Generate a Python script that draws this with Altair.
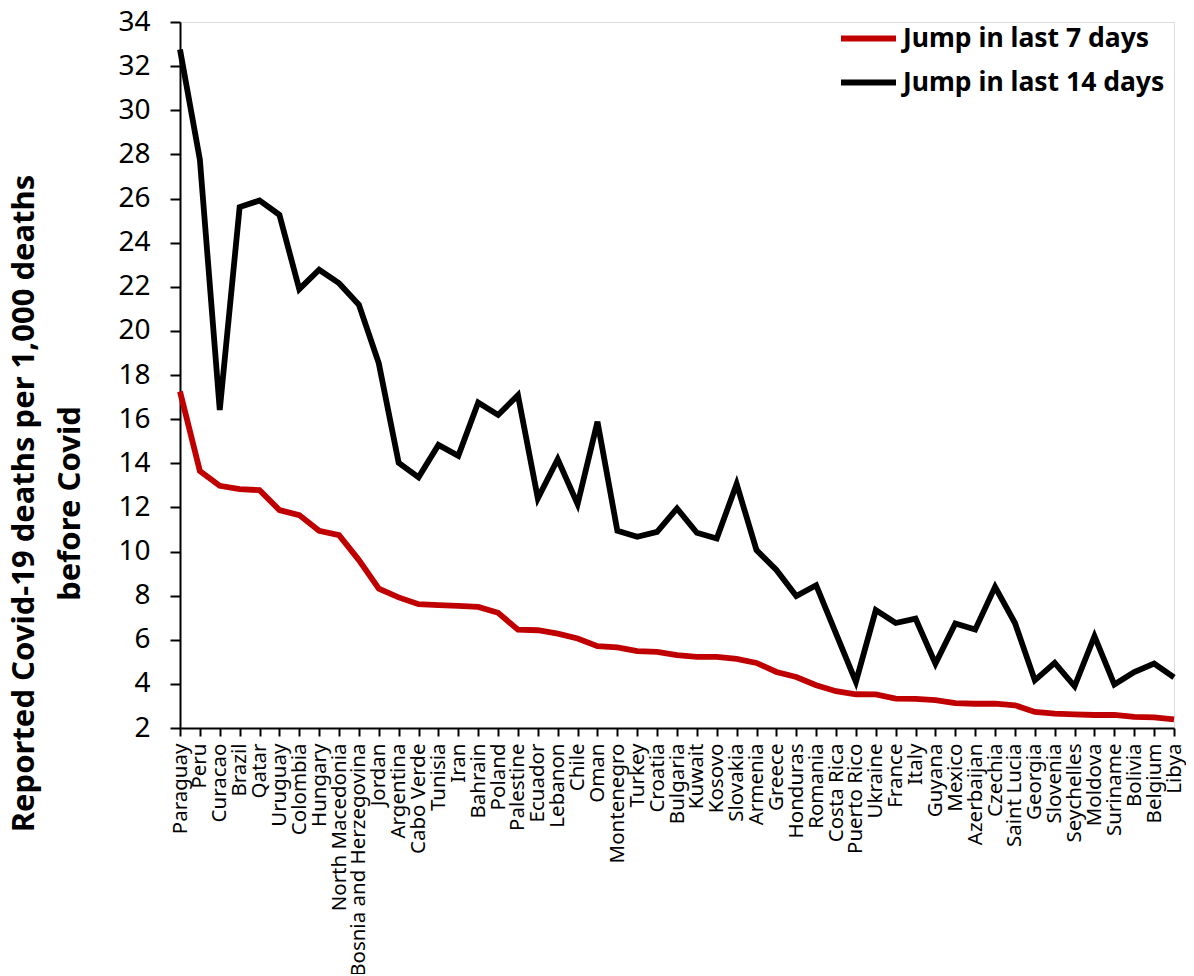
import altair as alt
import pandas as pd

countries = ["Paraguay", "Peru", "Curacao", "Brazil", "Qatar", "Uruguay", "Colombia", "Hungary",
             "North Macedonia", "Bosnia and Herzegovina", "Jordan", "Argentina", "Cabo Verde", "Tunisia",
             "Iran", "Bahrain", "Poland", "Palestine", "Ecuador", "Lebanon", "Chile", "Oman",
             "Montenegro", "Turkey", "Croatia", "Bulgaria", "Kuwait", "Kosovo", "Slovakia", "Armenia",
             "Greece", "Honduras", "Romania", "Costa Rica", "Puerto Rico", "Ukraine", "France", "Italy",
             "Guyana", "Mexico", "Azerbaijan", "Czechia", "Saint Lucia", "Georgia", "Slovenia",
             "Seychelles", "Moldova", "Suriname", "Bolivia", "Belgium", "Libya"]

jump_7 = [17.25, 13.65, 12.98, 12.83, 12.78, 11.88, 11.65, 10.94, 10.74, 9.61, 8.32, 7.92, 7.61, 7.57,
          7.54, 7.49, 7.22, 6.46, 6.43, 6.28, 6.06, 5.71, 5.65, 5.48, 5.45, 5.30, 5.22, 5.22, 5.13, 4.95,
          4.54, 4.31, 3.94, 3.67, 3.53, 3.52, 3.33, 3.32, 3.26, 3.13, 3.10, 3.10, 3.03, 2.73, 2.65,
          2.62, 2.59, 2.59, 2.50, 2.48, 2.39]

jump_14 = [32.75, 27.76, 16.41, 25.61, 25.91, 25.26, 21.89, 22.77, 22.16, 21.18, 18.53, 14.02, 13.36,
           14.83, 14.34, 16.75, 16.19, 17.09, 12.41, 14.18, 12.15, 15.88, 10.94, 10.67, 10.89, 11.95,
           10.85, 10.59, 13.06, 10.06, 9.16, 7.98, 8.47, 6.28, 4.09, 7.34, 6.76, 6.96, 4.92, 6.74, 6.46,
           8.40, 6.76, 4.16, 4.95, 3.89, 6.16, 3.97, 4.54, 4.92, 4.29]

series_names = ["Jump in last 7 days", "Jump in last 14 days"]
series_colors = ["#C00000", "#000000"]

df = pd.DataFrame({"country": countries, series_names[0]: jump_7, series_names[1]: jump_14})
long = df.melt(id_vars="country", var_name="series", value_name="value")

FONT = "Noto Sans"

chart = alt.Chart(long).mark_line(strokeWidth=5.8, strokeJoin="miter").encode(
    x=alt.X("country:N", sort=countries,
            scale=alt.Scale(type="point", padding=0),
            axis=alt.Axis(title=None, labelAngle=-90, labelAlign="right", labelBaseline="middle",
                          labelFontSize=20.5, labelFont=FONT, labelColor="#000000", labelPadding=7,
                          labelLimit=400,
                          tickSize=8, tickColor="#000000", tickWidth=2,
                          domainColor="#000000", domainWidth=2, labelOverlap=False)),
    y=alt.Y("value:Q",
            scale=alt.Scale(domain=[2, 34], nice=False, zero=False),
            axis=alt.Axis(values=list(range(2, 35, 2)), grid=False,
                          title=["Reported Covid-19 deaths per 1,000 deaths", "before Covid"],
                          titleFont=FONT, titleFontSize=31, titleFontWeight="bold", titleColor="#000000",
                          titleAngle=-90, titleAlign="center", titleBaseline="alphabetic",
                          titleX=-147, titleY=481, titleLineHeight=46, titleLimit=1000,
                          labelFont=FONT, labelFontSize=28, labelColor="#000000", labelPadding=20,
                          tickSize=10, tickColor="#000000", tickWidth=2,
                          domainColor="#000000", domainWidth=2)),
    color=alt.Color("series:N", sort=series_names,
                    scale=alt.Scale(domain=series_names, range=series_colors),
                    legend=alt.Legend(title=None, orient="none", legendX=658, legendY=-14,
                                      symbolType="stroke", symbolSize=3025, symbolStrokeWidth=5.8,
                                      labelFont=FONT, labelFontSize=26.5, labelFontWeight="bold",
                                      labelColor="#000000", labelOffset=4, labelLimit=400,
                                      rowPadding=-18, padding=0)),
    order=alt.Order("series:N", sort="descending"),
).properties(
    width=994, height=706,
    autosize=alt.AutoSizeParams(type="none"),
    padding={"left": 172, "top": 14, "right": 12, "bottom": 246},
).configure_view(stroke=None).configure(background="white")

chart.save("out.html", embed_options={"renderer": "svg", "actions": False})
